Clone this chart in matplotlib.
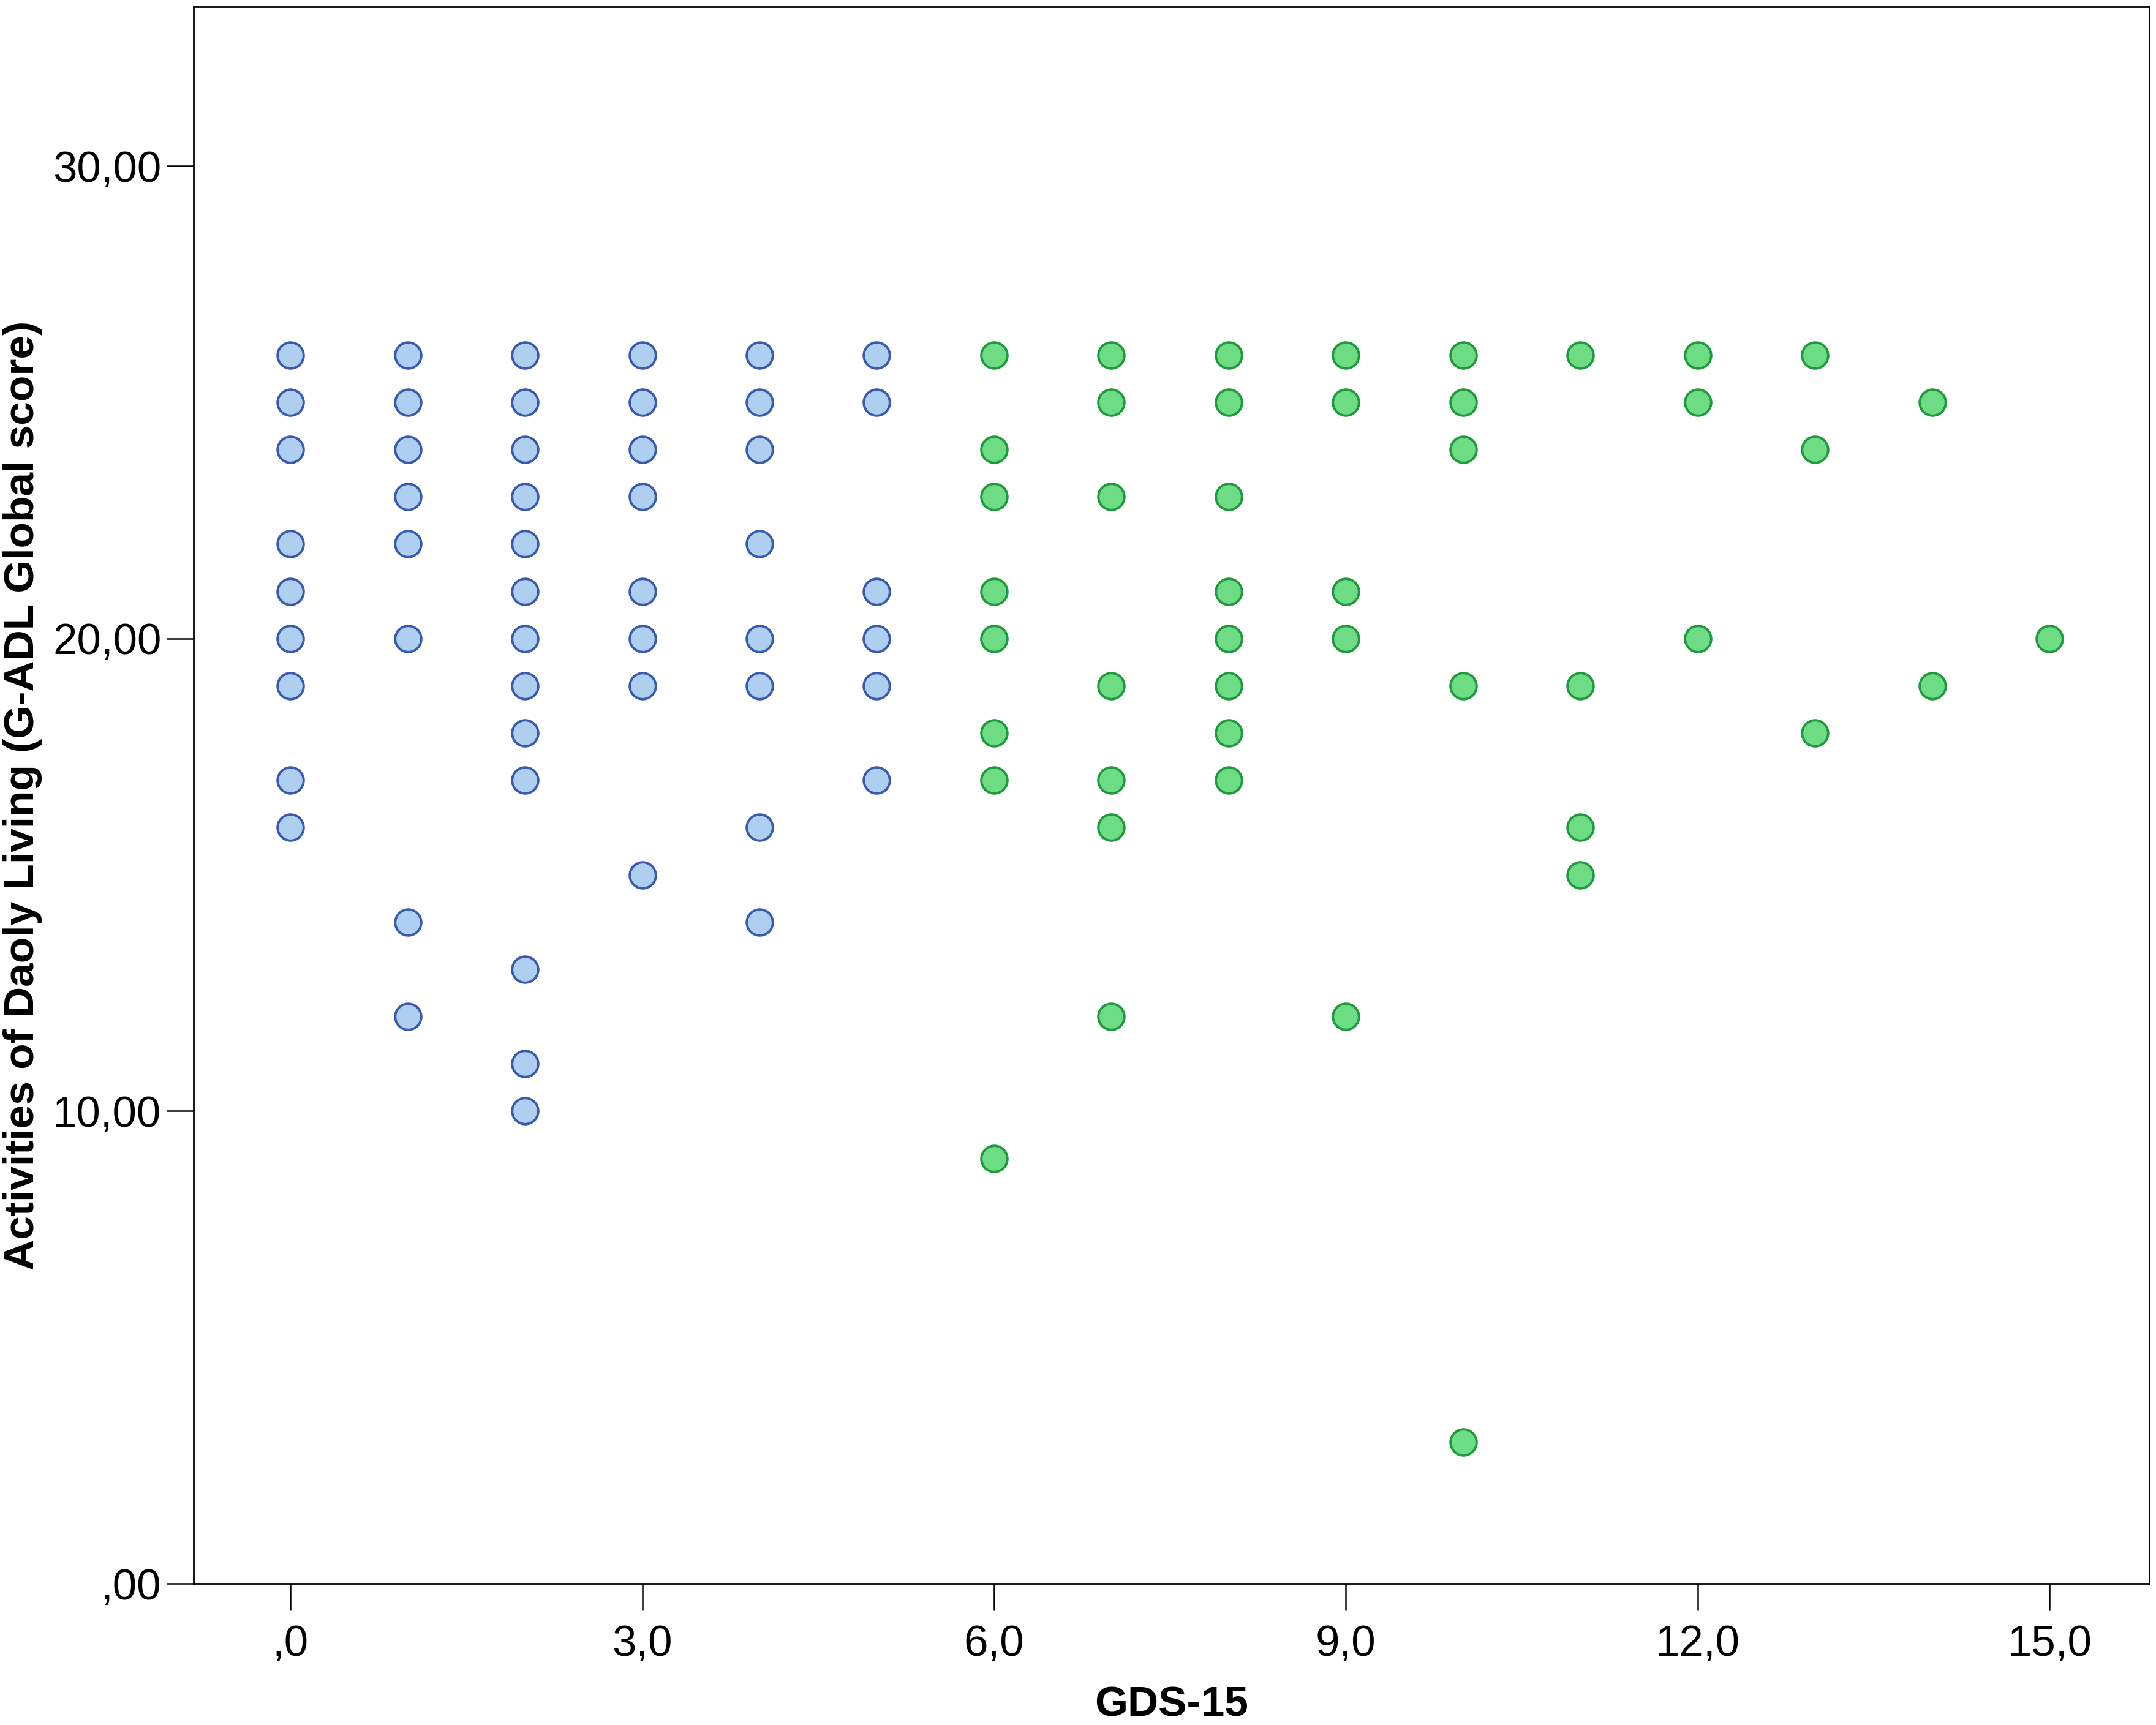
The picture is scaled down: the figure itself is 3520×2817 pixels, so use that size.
import matplotlib
matplotlib.use('Agg')
import matplotlib.pyplot as plt
from matplotlib.ticker import FuncFormatter

plt.rcParams['font.family'] = ['Liberation Sans', 'DejaVu Sans']

# GDS-15 score -> G-ADL global scores seen in that column
gds_low = [0, 1, 2, 3, 4, 5]
adl_low = [
    [26, 25, 24, 22, 21, 20, 19, 17, 16],
    [26, 25, 24, 23, 22, 20, 14, 12],
    [26, 25, 24, 23, 22, 21, 20, 19, 18, 17, 13, 11, 10],
    [26, 25, 24, 23, 21, 20, 19, 15],
    [26, 25, 24, 22, 20, 19, 16, 14],
    [26, 25, 21, 20, 19, 17],
]

gds_high = [6, 7, 8, 9, 10, 11, 12, 13, 14, 15]
adl_high = [
    [26, 24, 23, 21, 20, 18, 17, 9],
    [26, 25, 23, 19, 17, 16, 12],
    [26, 25, 23, 21, 20, 19, 18, 17],
    [26, 25, 21, 20, 12],
    [26, 25, 24, 19, 3],
    [26, 19, 16, 15],
    [26, 25, 20],
    [26, 24, 18],
    [25, 19],
    [20],
]

x_ticks = [0, 3, 6, 9, 12, 15]
y_ticks = [0, 10, 20, 30]


def flatten(xs, groups):
    px, py = [], []
    for x, ys in zip(xs, groups):
        for y in ys:
            px.append(x)
            py.append(y)
    return px, py


fig = plt.figure(figsize=(17.6, 14.085), dpi=200)
ax = fig.add_axes([0.0898, 0.0820, 0.9071, 0.9141])

lx, ly = flatten(gds_low, adl_low)
hx, hy = flatten(gds_high, adl_high)
ax.scatter(lx, ly, s=235, facecolor='#aecff0', edgecolor='#3a5aae', linewidth=1.4, zorder=3)
ax.scatter(hx, hy, s=235, facecolor='#6ddc84', edgecolor='#1f9a3c', linewidth=1.4, zorder=3)

ax.set_xlim(-0.825, 15.85)
ax.set_ylim(0, 33.37)
ax.set_xticks(x_ticks)
ax.set_yticks(y_ticks)


def comma_fmt(decimals):
    def f(v, pos):
        s = ('%.' + str(decimals) + 'f') % v
        s = s.replace('.', ',')
        if s.startswith('0,'):
            s = s[1:]
        return s
    return f


ax.xaxis.set_major_formatter(FuncFormatter(comma_fmt(1)))
ax.yaxis.set_major_formatter(FuncFormatter(comma_fmt(2)))

for sp in ax.spines.values():
    sp.set_linewidth(1.0)
ax.tick_params(axis='both', direction='out', length=16, width=0.9, labelsize=25.5, pad=3)
ax.tick_params(axis='x', pad=8)

ax.set_xlabel('GDS-15', fontsize=25, fontweight='bold', labelpad=12)
ax.set_ylabel('Activities of Daoly Living (G-ADL Global score)', fontsize=25,
              fontweight='bold', labelpad=6)

plt.savefig('out.png', dpi=200)
